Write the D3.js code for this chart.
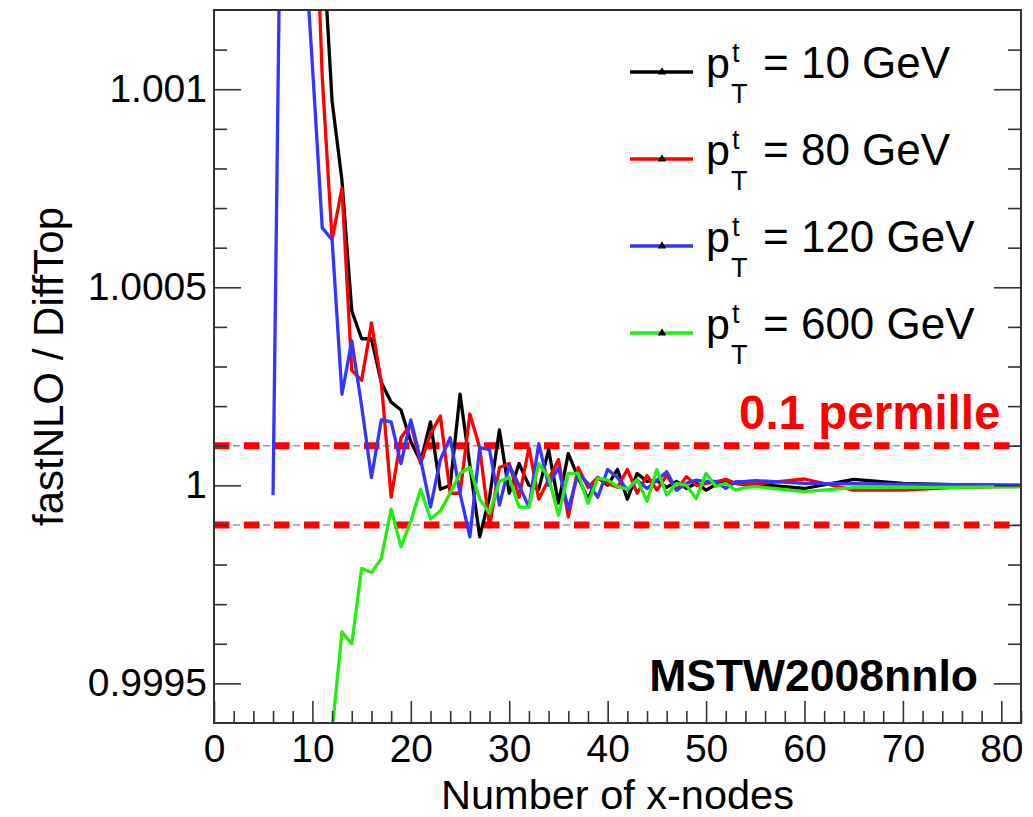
<!DOCTYPE html>
<meta charset="utf-8">
<style>
body { margin: 0; background: #fff; }
text { font-family: "Liberation Sans", Arial, sans-serif; fill: #000; }
.axis path { display: none; }
.axis line { stroke: #333; stroke-width: 1.6px; }
.axis text { font-size: 39px; fill: #000; }
</style>

<svg width="1033" height="817"></svg>

<script src="https://d3js.org/d3.v7.min.js"></script>
<script>

// number of x-nodes
var xNodes = [6, 7, 8, 9, 10, 11, 12, 13, 14, 15,
              16, 17, 18, 19, 20, 21, 22, 23, 24, 25,
              26, 27, 28, 29, 30, 31, 32, 33, 34, 35,
              36, 37, 38, 39, 40, 41, 42, 43, 44, 45,
              46, 47, 48, 49, 50, 51, 52, 53, 54, 55,
              60, 65, 70, 75, 80, 85];

// fastNLO / DiffTop, given as deviation from 1 in units of 1e-4
var dev10 = [40, 35, 30, 25, 19, 14, 9.7, 7.7, 4.4, 3.7,
             3.7, 2.6, 2.1, 1.9, 1.1, 0.6, 1.6, -0.1, 0.0, 2.3,
             0.5, -1.3, -0.3, 1.4, -0.2, 0.55, 0.0, -0.1, 0.9, -0.45,
             0.8, 0.2, -0.35, 0.2, 0.0, 0.4, -0.35, 0.3, 0.1, 0.12,
             -0.05, 0.1, -0.08, 0.06, -0.12, 0.02, 0.08, 0.05, 0.02, 0.03,
             -0.08, 0.15, 0.05, 0.02, 0.0, 0.0];
var dev80 = [40, 35, 30, 24, 17, 10.3, 6.2, 7.5, 2.9, 2.65,
             4.1, 2.6, -0.3, 1.2, 1.55, 0.55, 1.3, 1.75, -0.2, -0.2,
             1.8, 0.95, -1.05, 0.45, 0.55, -0.3, 0.95, -0.35, 0.15, 0.65,
             -0.8, 0.45, -0.05, 0.2, 0.05, -0.05, 0.4, -0.2, 0.25, -0.12,
             0.25, -0.12, 0.22, 0.0, 0.05, 0.09, 0.15, 0.05, 0.04, 0.03,
             0.16, -0.12, -0.12, -0.06, -0.03, -0.02];
var dev120 = [-0.25, 20, 25, 14.5, 10.6, 6.5, 6.2, 2.3, 3.65, 2.0,
              0.2, 1.65, 1.6, 0.55, 1.65, 0.65, -0.55, 0.65, 1.2, -0.2,
              -1.3, 0.95, 0.9, -0.5, 0.5, 0.0, -0.55, 1.05, 0.0, 0.45,
              -0.6, 0.3, 0.05, -0.3, 0.4, 0.2, -0.12, 0.13, -0.08, 0.13,
              0.34, -0.12, 0.05, 0.13, 0.09, 0.1, -0.08, 0.09, 0.1, 0.12,
              0.05, 0.04, 0.03, 0.02, 0.01, 0.0];
var dev600 = [-40, -35, -30, -25, -18, -12, -6.2, -3.7, -4.0, -2.1,
              -2.2, -1.85, -0.6, -1.55, -0.9, -0.1, -0.85, -0.65, -0.2, 0.3,
              0.45, -0.35, -0.7, 0.1, 0.2, -0.55, -0.55, 0.55, 0.2, -0.75,
              0.3, 0.3, -0.45, 0.18, 0.14, -0.03, -0.1, 0.15, -0.4, 0.4,
              -0.24, 0.05, 0.0, -0.33, 0.3, -0.03, 0.05, -0.12, -0.05, -0.03,
              -0.16, -0.06, -0.05, -0.05, -0.04, -0.04];

var seriesLabels = ["= 10 GeV", "= 80 GeV", "= 120 GeV", "= 600 GeV"];
var seriesColors = ["#000000", "#ff0000", "#3535ff", "#22ee11"];

var xMajor = [0, 10, 20, 30, 40, 50, 60, 70, 80];
var xMinor = [2, 4, 6, 8, 12, 14, 16, 18, 22, 24, 26, 28, 32, 34, 36, 38,
              42, 44, 46, 48, 52, 54, 56, 58, 62, 64, 66, 68, 72, 74, 76, 78, 82];
var yMajor = [0.9995, 1, 1.0005, 1.001];
var yMinor = [0.9996, 0.9997, 0.9998, 0.9999, 1.0001, 1.0002, 1.0003, 1.0004,
              1.0006, 1.0007, 1.0008, 1.0009, 1.0011];
var bandLimits = [0.9999, 1.0001];

var svg = d3.select("svg"),
    frameLeft = 214, frameRight = 1021, frameTop = 10, frameBottom = 723;

var x = d3.scaleLinear().domain([0, 82]).range([frameLeft, frameRight]);
var y = d3.scaleLinear().domain([0.9994, 1.0012]).range([frameBottom, frameTop]);

var series = [dev10, dev80, dev120, dev600].map(function(dev, i) {
  return {
    label: seriesLabels[i],
    color: seriesColors[i],
    values: xNodes.map(function(n, j) { return {n: n, r: 1 + dev[j] * 1e-4}; })
  };
});

svg.append("clipPath").attr("id", "frame")
  .append("rect")
    .attr("x", frameLeft).attr("y", frameTop)
    .attr("width", frameRight - frameLeft).attr("height", frameBottom - frameTop);

// +- 0.1 permille band
var band = svg.append("g");
band.selectAll("line.grey")
  .data(bandLimits)
  .enter().append("line")
    .attr("class", "grey")
    .attr("x1", frameLeft).attr("x2", frameRight)
    .attr("y1", function(d) { return y(d); })
    .attr("y2", function(d) { return y(d); })
    .attr("stroke", "#9a9a9a")
    .attr("stroke-width", 1.6)
    .attr("stroke-dasharray", "7,8")
    .attr("stroke-dashoffset", 11);
band.selectAll("line.red")
  .data(bandLimits)
  .enter().append("line")
    .attr("class", "red")
    .attr("x1", frameLeft).attr("x2", frameRight)
    .attr("y1", function(d) { return y(d); })
    .attr("y2", function(d) { return y(d); })
    .attr("stroke", "#ff0000")
    .attr("stroke-width", 7)
    .attr("stroke-dasharray", "15.5,14.5");

var line = d3.line()
    .x(function(d) { return x(d.n); })
    .y(function(d) { return y(d.r); });

svg.append("g")
    .attr("clip-path", "url(#frame)")
  .selectAll("path")
  .data(series)
  .enter().append("path")
    .attr("fill", "none")
    .attr("stroke", function(d) { return d.color; })
    .attr("stroke-width", 3.3)
    .attr("stroke-linejoin", "round")
    .attr("d", function(d) { return line(d.values); });

// axes, ticks pointing inwards
svg.append("g")
    .attr("class", "axis")
    .attr("transform", "translate(0," + frameBottom + ")")
    .call(d3.axisBottom(x).tickValues(xMajor).tickSizeInner(-22).tickSizeOuter(0).tickPadding(11));
svg.append("g")
    .attr("class", "axis")
    .attr("transform", "translate(0," + frameBottom + ")")
    .call(d3.axisBottom(x).tickValues(xMinor).tickSizeInner(-12).tickSizeOuter(0).tickFormat(""));

svg.append("g")
    .attr("class", "axis")
    .attr("transform", "translate(" + frameLeft + ",0)")
    .call(d3.axisLeft(y).tickValues(yMajor).tickSizeInner(-27).tickSizeOuter(0).tickPadding(7)
      .tickFormat(function(d) { return d3.format(".4~f")(d); }));
svg.append("g")
    .attr("class", "axis")
    .attr("transform", "translate(" + frameLeft + ",0)")
    .call(d3.axisLeft(y).tickValues(yMinor).tickSizeInner(-13).tickSizeOuter(0).tickFormat(""));
svg.append("g")
    .attr("class", "axis")
    .attr("transform", "translate(" + frameRight + ",0)")
    .call(d3.axisRight(y).tickValues(yMajor).tickSizeInner(-27).tickSizeOuter(0).tickFormat(""));
svg.append("g")
    .attr("class", "axis")
    .attr("transform", "translate(" + frameRight + ",0)")
    .call(d3.axisRight(y).tickValues(yMinor).tickSizeInner(-13).tickSizeOuter(0).tickFormat(""));

svg.append("rect")
    .attr("x", frameLeft).attr("y", frameTop)
    .attr("width", frameRight - frameLeft).attr("height", frameBottom - frameTop)
    .attr("fill", "none")
    .attr("stroke", "#333")
    .attr("stroke-width", 2);

// axis titles
svg.append("text")
    .attr("x", (frameLeft + frameRight) / 2)
    .attr("y", 809)
    .attr("text-anchor", "middle")
    .style("font-size", "41.5px")
    .text("Number of x-nodes");

svg.append("text")
    .attr("transform", "translate(63," + (frameTop + frameBottom) / 2 + ") rotate(-90)")
    .attr("text-anchor", "middle")
    .style("font-size", "42px")
    .text("fastNLO / DiffTop");

// annotations
svg.append("text")
    .attr("x", 739)
    .attr("y", 429)
    .style("font-size", "47.5px")
    .style("font-weight", "bold")
    .style("fill", "#ff0000")
    .text("0.1 permille");

svg.append("text")
    .attr("x", 978)
    .attr("y", 691)
    .attr("text-anchor", "end")
    .style("font-size", "44.5px")
    .style("font-weight", "bold")
    .text("MSTW2008nnlo");

// legend
var legend = svg.append("g")
  .selectAll("g")
  .data(series)
  .enter().append("g")
    .attr("transform", function(d, i) { return "translate(0," + (72 + i * 87) + ")"; });

legend.append("line")
    .attr("x1", 630).attr("x2", 693)
    .attr("stroke", function(d) { return d.color; })
    .attr("stroke-width", 3.5);
legend.append("path")
    .attr("transform", "translate(662,0)")
    .attr("d", d3.symbol(d3.symbolTriangle, 30));
legend.append("text")
    .attr("x", 706).attr("y", 6)
    .style("font-size", "43px")
    .text("p");
legend.append("text")
    .attr("x", 732).attr("y", -10)
    .style("font-size", "27px")
    .text("t");
legend.append("text")
    .attr("x", 731).attr("y", 31)
    .style("font-size", "27px")
    .text("T");
legend.append("text")
    .attr("x", 763).attr("y", 6)
    .style("font-size", "44px")
    .text(function(d) { return d.label; });

</script>
